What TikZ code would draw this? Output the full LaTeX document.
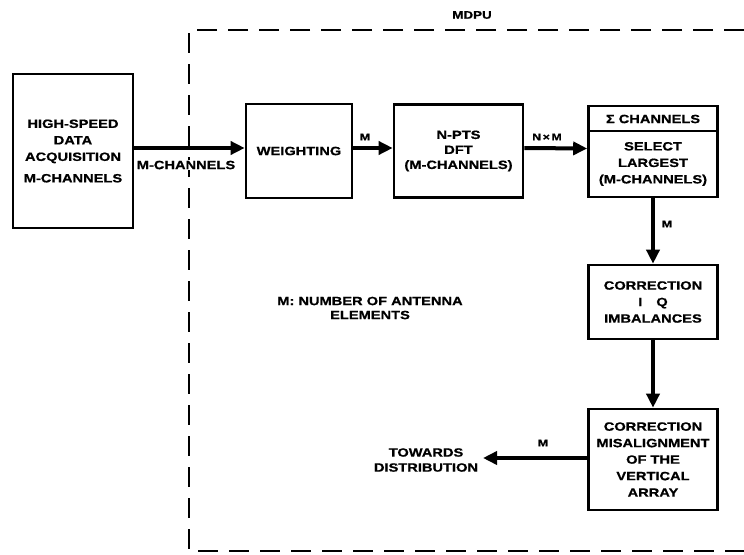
\documentclass[tikz,border=0pt]{standalone}
\usepackage{fontspec}
\setmainfont{Liberation Sans}[FakeStretch=1.22, BoldFeatures={FakeBold=0.8}]
\usetikzlibrary{arrows.meta}
\begin{document}
\begin{tikzpicture}[x=1pt,y=-1pt]
\tikzset{
  blk/.style={draw, line width=2.6pt, align=center, inner sep=0pt, font=\bfseries\fontsize{12}{16.5}\selectfont},
  txt/.style={align=center, inner sep=1pt, font=\bfseries\fontsize{12}{16.5}\selectfont},
  flow/.style={line width=4pt, -{Triangle[length=14pt,width=13pt]}},
  lbl/.style={align=center, inner sep=1pt, font=\bfseries\fontsize{12}{14}\selectfont},
  small/.style={inner sep=0pt, font=\bfseries\fontsize{10}{12}\selectfont},
  frame/.style={line width=2.5pt, dash pattern=on 20pt off 11pt}
}
\useasboundingbox (0,0) rectangle (744,554);
% MDPU dashed frame
\draw[frame] (744,30) -- (189,30) -- (189,551) -- (744,551);
\node[inner sep=0pt, font=\bfseries\fontsize{11}{13}\selectfont] (mdpu) at (472,15) {MDPU};
% blocks
\node[blk, minimum width=120pt, minimum height=154pt] (hsda) at (73,151)
  {HIGH-SPEED\\DATA\\ACQUISITION\\[5pt]M-CHANNELS};
\node[blk, minimum width=106pt, minimum height=94pt] (weigh) at (299,151) {WEIGHTING};
\node[blk, minimum width=129pt, minimum height=93pt, font=\bfseries\fontsize{12}{15}\selectfont] (dft) at (458.5,151)
  {N-PTS\\DFT\\(M-CHANNELS)};
\node[blk, minimum width=129pt, minimum height=91pt] (sel) at (653,151.5) {};
\draw[line width=2.2pt] (sel.west |- 0,131) -- (sel.east |- 0,131);
\node[txt] (selhead) at (653,119) {Σ CHANNELS};
\node[txt] (seltxt) at (653,164) {SELECT\\LARGEST\\(M-CHANNELS)};
\node[blk, minimum width=129pt, minimum height=74pt] (iq) at (653,302)
  {CORRECTION\\I\hspace{14pt}Q\\IMBALANCES};
\node[blk, minimum width=129pt, minimum height=101pt] (mis) at (653,459.5)
  {CORRECTION\\MISALIGNMENT\\OF THE\\VERTICAL\\ARRAY};
% connectors
\draw[flow] ([yshift=3pt]hsda.east) -- ([yshift=3pt]weigh.west);
\draw[flow] ([yshift=3pt]weigh.east) -- ([yshift=3pt]dft.west);
\draw[flow] ([yshift=3pt]dft.east) -- ([yshift=3pt]sel.west);
\draw[flow] (sel.south) -- (iq.north);
\draw[flow] (iq.south) -- (mis.north);
\coordinate (out) at (483,458);
\draw[flow] (mis.west |- out) -- (out);
% labels
\node[lbl, fill=white, inner sep=0.5pt] (mch) at (186,165) {M-CHANNELS};
\node[small] (m1) at (365,137) {M};
\node[small] (nm) at (547,137) {N\,×\,M};
\node[small] (m2) at (667,224) {M};
\node[small] (m3) at (543,443) {M};
\node[lbl] (note) at (370,308) {M: NUMBER OF ANTENNA\\ELEMENTS};
\node[lbl, font=\bfseries\fontsize{12}{15}\selectfont] (dist) at (426,460) {TOWARDS\\DISTRIBUTION};
\end{tikzpicture}
\end{document}
